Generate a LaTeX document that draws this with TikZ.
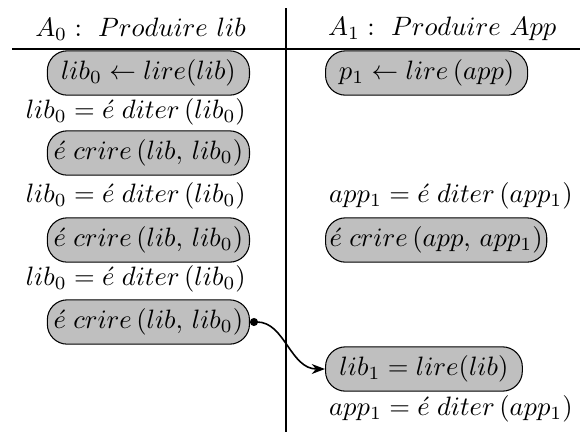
\documentclass[tikz,border=0pt]{standalone}
\usetikzlibrary{arrows.meta}
\begin{document}
\begin{tikzpicture}[x=0.376pt, y=-0.376pt,
    act/.style = {rectangle, rounded corners=7.5pt, draw=black, thin, fill=black!25, inner xsep=1.5pt, minimum height=16pt, minimum width=76pt},
    txt/.style = {inner sep=1pt}]

        \useasboundingbox (0,0) rectangle (580,432);

        \draw[line width=0.7pt] (286,8) -- (286,432);
        \draw[line width=0.7pt] (12,49) -- (580,49);

        \node[txt,anchor=east] (h0) at (249,29) {$A_0 :\ Produire\ lib$};
        \node[txt,anchor=west] (h1) at (325,29) {$A_1 :\ Produire\ App$};

        \node[act,anchor=east] (l1) at (250,73) {$lib_0 \leftarrow lire(lib)$};
        \node[txt,anchor=east] (l2) at (249,112) {$lib_0 = \acute{e}\;diter\,(lib_0)$};
        \node[act,anchor=east] (l3) at (250,153) {$\acute{e}\;crire\,(lib,\,lib_0)$};
        \node[txt,anchor=east] (l4) at (249,196) {$lib_0 = \acute{e}\;diter\,(lib_0)$};
        \node[act,anchor=east] (l5) at (250,240) {$\acute{e}\;crire\,(lib,\,lib_0)$};
        \node[txt,anchor=east] (l6) at (249,279) {$lib_0 = \acute{e}\;diter\,(lib_0)$};
        \node[act,anchor=east] (l7) at (250,322) {$\acute{e}\;crire\,(lib,\,lib_0)$};

        \node[act,anchor=west] (r1) at (325,73) {$p_1 \leftarrow lire\,(app)$};
        \node[txt,anchor=west] (r4) at (326,196) {$app_1 = \acute{e}\;diter\,(app_1)$};
        \node[act,anchor=west] (r5) at (325,240) {$\acute{e}\;crire\,(app,\,app_1)$};
        \node[act,anchor=west,minimum width=74pt] (r8) at (325,369) {$lib_1 = lire(lib)$};
        \node[txt,anchor=west] (r9) at (326,409) {$app_1 = \acute{e}\;diter\,(app_1)$};

        \draw[semithick, {Circle[length=3pt]}-{Stealth[length=5pt]}] (l7.east) to[out=0, in=180] (r8.west);

    \end{tikzpicture}
\end{document}
